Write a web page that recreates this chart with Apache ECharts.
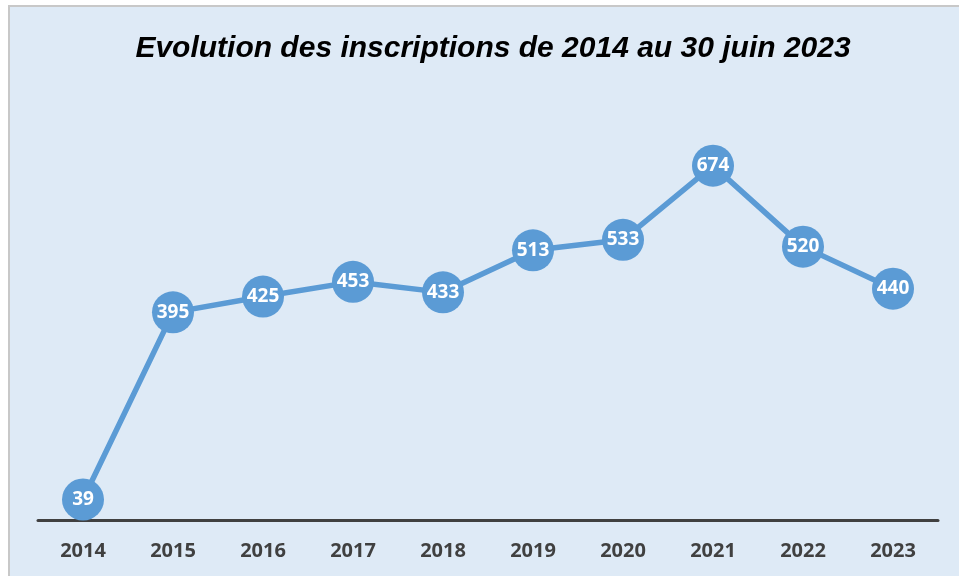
<!DOCTYPE html>
<html><head><meta charset="utf-8">
<script src="https://cdn.jsdelivr.net/npm/echarts@6/dist/echarts.min.js"></script>
<style>
html,body{margin:0;padding:0;background:#fff;width:959px;height:576px;overflow:hidden;}
#bg{position:absolute;left:8px;top:5px;width:980px;height:600px;background:#DEEAF6;border:2px solid #C8C8C8;box-sizing:border-box;}
#c{position:absolute;left:0;top:0;width:959px;height:576px;}
</style></head>
<body><div id="bg"></div><div id="c"></div>
<script>
const categories = ['2014','2015','2016','2017','2018','2019','2020','2021','2022','2023'];
const inscriptions = [39,395,425,453,433,513,533,674,520,440];
const titleText = 'Evolution des inscriptions de 2014 au 30 juin 2023';

const chart = echarts.init(document.getElementById('c'), null, {renderer:'canvas'});
chart.setOption({
  backgroundColor: 'transparent',
  animation: false,
  title: {
    text: titleText,
    left: 488, top: 29, textAlign: 'center',
    textStyle: {fontFamily: 'Liberation Sans', fontStyle: 'italic', fontWeight: 'bold', fontSize: 30, color: '#000'}
  },
  grid: {left: 38, right: 21, top: 152, bottom: 56, containLabel: false},
  xAxis: {
    type: 'category', data: categories, boundaryGap: true,
    axisLine: {show: true, lineStyle: {color: '#404040', width: 3}},
    axisTick: {show: false},
    axisLabel: {color: '#404040', fontFamily: 'Open Sans', fontWeight: 'bold', fontSize: 20, margin: 21}
  },
  yAxis: {
    type: 'value', min: 0, max: 700, show: false,
    splitLine: {show: false}
  },
  series: [{
    type: 'line', data: inscriptions,
    symbol: 'circle', symbolSize: 42,
    lineStyle: {color: '#5B9BD5', width: 5.5},
    itemStyle: {color: '#5B9BD5'},
    label: {show: true, position: 'inside', color: '#fff', fontFamily: 'Open Sans', fontWeight: 'bold', fontSize: 19}
  }]
});
</script></body></html>
